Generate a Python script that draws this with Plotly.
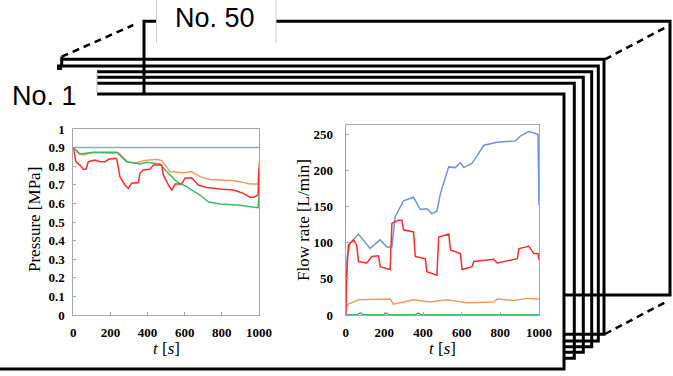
import plotly.graph_objects as go

W, H = 673, 376

# ---------------- data: pressure chart (MPa) ----------------
p_blue_t = [0, 1000]
p_blue_v = [0.9, 0.9]

p_orange_t = [0, 27, 54, 108, 215, 242, 296, 341, 377, 449, 476, 521, 592, 638, 682, 736, 862, 898, 952, 995, 1000]
p_orange_v = [0.90, 0.869, 0.860, 0.873, 0.869, 0.873, 0.821, 0.819, 0.830, 0.837, 0.830, 0.771, 0.765, 0.771,
              0.744, 0.729, 0.722, 0.717, 0.704, 0.704, 0.82]

p_green_t = [0, 36, 108, 233, 287, 359, 395, 467, 503, 557, 610, 682, 727, 790, 898, 995, 1000]
p_green_v = [0.90, 0.866, 0.875, 0.875, 0.824, 0.812, 0.821, 0.812, 0.771, 0.717, 0.690, 0.645, 0.609, 0.597,
             0.590, 0.577, 0.64]

p_red_t = [0, 14, 36, 54, 68, 81, 117, 144, 171, 189, 224, 233, 251, 278, 296, 314, 341, 350, 359, 377, 413,
           431, 476, 485, 512, 530, 548, 583, 601, 638, 673, 718, 790, 862, 916, 952, 973, 995, 1000]
p_red_v = [0.90, 0.824, 0.806, 0.783, 0.783, 0.824, 0.833, 0.824, 0.824, 0.837, 0.842, 0.842, 0.744, 0.699,
           0.681, 0.708, 0.711, 0.711, 0.762, 0.780, 0.783, 0.806, 0.806, 0.753, 0.699, 0.672, 0.704, 0.704,
           0.735, 0.738, 0.699, 0.685, 0.677, 0.672, 0.654, 0.633, 0.633, 0.645, 0.789]

# ---------------- data: flow-rate chart (L/min) ----------------
f_blue_t = [0, 8, 22, 66, 126, 178, 213, 239, 256, 299, 351, 386, 420, 446, 472, 490, 533, 567, 593, 611, 654,
            715, 784, 879, 905, 948, 995, 1000]
f_blue_v = [0, 80, 99, 112, 92, 104, 94, 94, 136, 158, 163, 146, 147, 140, 144, 168, 205, 204, 211, 204, 210,
            235, 239, 241, 248, 254, 250, 152]

f_red_t = [0, 6, 14, 40, 57, 66, 109, 135, 170, 178, 230, 239, 273, 291, 299, 351, 360, 412, 420, 472, 481, 533,
           542, 593, 602, 654, 663, 766, 784, 888, 896, 948, 974, 995, 1000]
f_red_v = [0, 60, 97, 104, 97, 74, 72, 81, 82, 67, 63, 127, 131, 131, 118, 115, 81, 78, 60, 55, 108, 112, 90, 85,
           63, 67, 74, 77, 72, 78, 92, 95, 85, 85, 76]

f_orange_t = [0, 6, 14, 66, 230, 247, 299, 351, 438, 524, 628, 766, 784, 870, 940, 1000]
f_orange_v = [0, 12, 15, 21, 22, 15, 18, 21, 18, 21, 17, 18, 22, 20, 23, 22]

f_green_t = [0, 60, 75, 90, 200, 210, 225, 360, 375, 390, 1000]
f_green_v = [0.5, 0.5, 3, 0.5, 0.5, 2.5, 0.5, 0.5, 2.5, 0.5, 0.5]

x_ticks = [0, 200, 400, 600, 800, 1000]
p_ticks = [0, 0.1, 0.2, 0.3, 0.4, 0.5, 0.6, 0.7, 0.8, 0.9, 1.0]
p_tick_text = ["0", "0.1", "0.2", "0.3", "0.4", "0.5", "0.6", "0.7", "0.8", "0.9", "1"]
f_ticks = [0, 50, 100, 150, 200, 250]

label_front = "No. 1"
label_back = "No. 50"

C_BLUE_L = "#8eaadc"
C_BLUE_R = "#6f93d8"
C_ORANGE = "#f29a5e"
C_GREEN = "#3cb96a"
C_RED = "#ff2b2b"

fig = go.Figure()


def line(x, y, color, ax="x", ay="y"):
    fig.add_trace(go.Scatter(x=x, y=y, mode="lines", xaxis=ax, yaxis=ay,
                             line=dict(color=color, width=1.5), hoverinfo="skip", showlegend=False))


line(p_blue_t, p_blue_v, C_BLUE_L)
line(p_orange_t, p_orange_v, C_ORANGE)
line(p_green_t, p_green_v, C_GREEN)
line(p_red_t, p_red_v, C_RED)

line(f_green_t, f_green_v, C_GREEN, "x2", "y2")
line(f_orange_t, f_orange_v, C_ORANGE, "x2", "y2")
line(f_blue_t, f_blue_v, C_BLUE_R, "x2", "y2")
line(f_red_t, f_red_v, C_RED, "x2", "y2")


def px(x):
    return x / W


def py(y):
    return 1 - y / H


tickfont = dict(family="Liberation Serif", size=13, color="black", weight="bold")
axis_common = dict(showline=True, mirror=True, linecolor="#a6a6a6", linewidth=1, ticks="inside", ticklen=3,
                   tickcolor="#a6a6a6", showgrid=False, zeroline=False, tickfont=tickfont, automargin=False)

fig.update_layout(
    width=W, height=H, margin=dict(l=0, r=0, t=0, b=0, pad=0, autoexpand=False),
    paper_bgcolor="white", plot_bgcolor="white", showlegend=False,
    xaxis=dict(domain=[px(73.3), px(259)], anchor="y", range=[0, 1000], tickvals=x_ticks,
               ticklabelstandoff=5, **axis_common),
    yaxis=dict(domain=[py(315), py(129)], anchor="x", range=[0, 1], tickvals=p_ticks, ticktext=p_tick_text,
               ticklabelstandoff=5, **axis_common),
    xaxis2=dict(domain=[px(345.7), px(539)], anchor="y2", range=[0, 1000], tickvals=x_ticks,
                ticklabelstandoff=5, **axis_common),
    yaxis2=dict(domain=[py(315), py(125)], anchor="x2", range=[0, 263], tickvals=f_ticks,
                ticklabelstandoff=9, **axis_common),
)

shapes = []


def path(pts, width=3, color="black", dash=None):
    d = "M " + " L ".join(f"{px(a):.5f},{py(b):.5f}" for a, b in pts)
    ln = dict(color=color, width=width)
    if dash:
        ln["dash"] = dash
    shapes.append(dict(type="path", xref="paper", yref="paper", path=d, line=ln, layer="above"))


# back sheet (No. 50)
path([(144, 94), (144, 21.3), (670, 21.3), (670, 295), (564, 295)])
# stacked sheets
path([(61.7, 59.3), (604, 59.3), (604, 334.3), (564, 334.3)])
path([(57, 66), (598.3, 66), (598.3, 341), (564, 341)])
path([(97, 71.7), (591.7, 71.7), (591.7, 346.7), (564, 346.7)])
path([(97, 77.3), (583.3, 77.3), (583.3, 352.3), (564, 352.3)])
path([(97, 83.3), (574.3, 83.3), (574.3, 358.3), (564, 358.3)])
path([(97, 94), (564, 94), (564, 369), (0, 369)])
path([(61.7, 56.7), (61.7, 66)])
shapes.append(dict(type="rect", xref="paper", yref="paper", x0=px(57), x1=px(62), y0=py(70), y1=py(65),
                   fillcolor="black", line=dict(width=0)))
path([(97, 71.7), (97, 94)], width=1, color="#bbbbbb")
# dashed perspective edges
path([(61.7, 56.7), (133.3, 25)], width=2.5, dash="7px,5px")
path([(605, 59.3), (668.3, 26)], width=2.5, dash="7px,5px")
path([(605, 334), (668.3, 300.7)], width=2.5, dash="7px,5px")
# label box for No. 50
shapes.append(dict(type="rect", xref="paper", yref="paper", x0=px(156.5), x1=px(276), y0=py(42.7), y1=py(0),
                   fillcolor="white", line=dict(width=0)))
path([(156.5, 0), (156.5, 42.7)], width=1, color="#cccccc")
path([(276, 0), (276, 42.7)], width=1, color="#cccccc")

fig.update_layout(shapes=shapes)

serif = "Liberation Serif"
ann = [
    dict(text=label_back, x=px(215), y=py(18), font=dict(family="Liberation Sans", size=27, color="black")),
    dict(text=label_front, x=px(44), y=py(96), font=dict(family="Liberation Sans", size=27, color="black")),
    dict(text="Pressure [MPa]", x=px(34), y=py(220), textangle=-90, font=dict(family=serif, size=17, color="black")),
    dict(text="Flow rate [L/min]", x=px(303), y=py(220), textangle=-90,
         font=dict(family=serif, size=17, color="black")),
    dict(text="<i>t</i> [<i>s</i>]", x=px(166), y=py(348), font=dict(family=serif, size=17, color="black")),
    dict(text="<i>t</i> [<i>s</i>]", x=px(442), y=py(348), font=dict(family=serif, size=17, color="black")),
]
for a in ann:
    a.update(xref="paper", yref="paper", showarrow=False, xanchor="center", yanchor="middle")
fig.update_layout(annotations=ann)

fig.write_html("out.html")
